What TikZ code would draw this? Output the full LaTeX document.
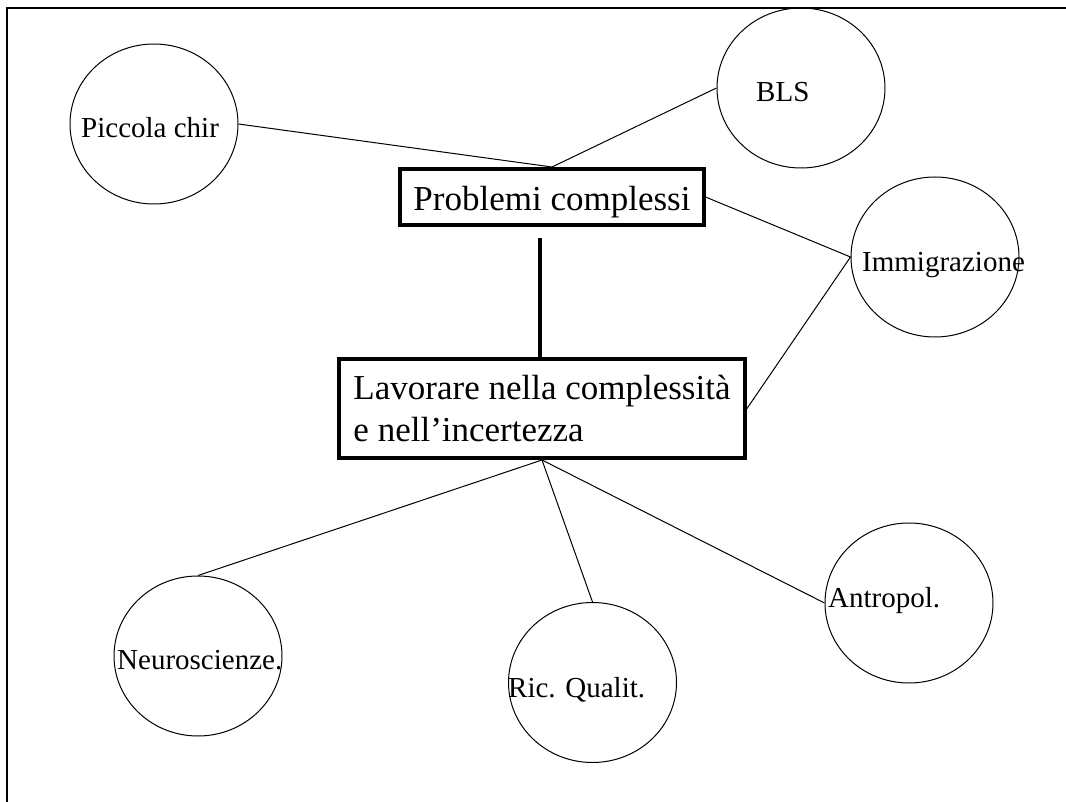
\documentclass[tikz,border=0pt]{standalone}
\usepackage{fontspec}
\setmainfont{Liberation Serif}
\usetikzlibrary{shapes.geometric}
\newcommand{\mapBubbleFont}{\fontsize{29}{35}\selectfont}
\newcommand{\mapBoxFont}{\fontsize{35}{42}\selectfont}
\begin{document}
\begin{tikzpicture}[x=1pt,y=-1pt,
  bubble/.style={draw, line width=1pt, ellipse, inner sep=0pt, minimum width=168pt, minimum height=160pt},
  bubbletext/.style={anchor=base west, inner sep=0pt, font=\mapBubbleFont},
  topicbox/.style={draw, line width=4pt, font=\mapBoxFont},
  link/.style={line width=1pt}]
\useasboundingbox (0,0) rectangle (1066,802);
\draw[line width=1.3pt] (7,802) -- (7,8) -- (1066,8);
\node[topicbox, anchor=base, inner xsep=13pt, inner ysep=0pt, text height=42pt, text depth=14pt] (prob) at (552,211) {Problemi complessi};
\node[topicbox, align=left, inner xsep=10pt, minimum width=406pt, minimum height=99pt] (lav) at (542,408.5) {Lavorare nella complessità\\e nell’incertezza};
\node[bubble] (picc) at (154,124) {};
\node[bubble] (bls) at (801,88) {};
\node[bubble] (immi) at (935,257) {};
\node[bubble] (neuro) at (198,656) {};
\node[bubble] (ric) at (592.5,682.5) {};
\node[bubble] (antr) at (909,603) {};
\node[bubbletext] (picct) at (81,138) {Piccola chir};
\node[bubbletext] (blst) at (756,102) {BLS};
\node[bubbletext] (immit) at (862,272) {Immigrazione};
\node[bubbletext] (neurot) at (117,669) {Neuroscienze.};
\node[bubbletext] (rict) at (508,697) {Ric. Qualit.};
\node[bubbletext] (antrt) at (828,607) {Antropol.};
\coordinate (stem) at (540,238);
\draw[line width=3.7pt] (stem) -- (stem |- lav.north);
\draw[link] (picc.east) -- (prob.north) -- (bls.west);
\draw[link] (prob.east) -- (immi.west) -- (lav.east);
\draw[link] (lav.south) -- (neuro.north);
\draw[link] (lav.south) -- (ric.north);
\draw[link] (lav.south) -- (antr.west);
\end{tikzpicture}
\end{document}
